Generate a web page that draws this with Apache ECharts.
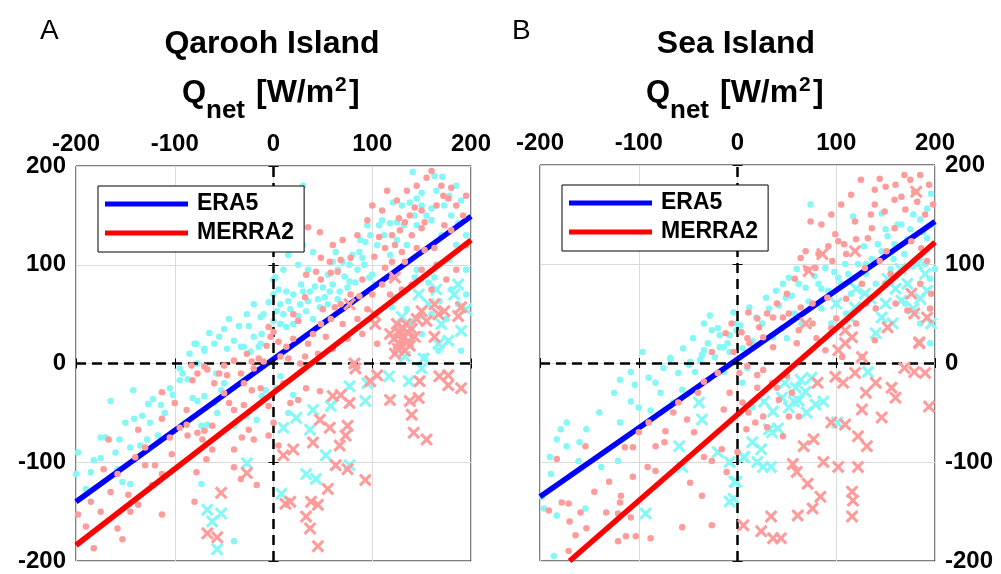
<!DOCTYPE html>
<html>
<head>
<meta charset="utf-8">
<title>Qnet scatter</title>
<script src="https://cdn.jsdelivr.net/npm/echarts@6/dist/echarts.min.js"></script>
<style>
  html, body { margin: 0; padding: 0; background: #ffffff; }
  #chart { width: 1001px; height: 574px; }
</style>
</head>
<body>
<div id="chart"></div>
<script>
// ---- text and axis settings ----
const panelTitles = ['Qarooh Island', 'Sea Island'];
const panelLetters = ['A', 'B'];
const seriesNames = ['ERA5', 'MERRA2'];
const axisMin = -200;
const axisMax = 200;
const axisStep = 100;
const zeroRef = 0;

// ---- Panel A: Qarooh Island  [x, y] pairs in W/m2 ----
const qaEraDots = [
  [-165,-38],[-142,-27],[-102,-32],[-127,-41],[-122,-36],[-114,-42],[-141,-56],[-133,-53],
  [-170,-75],[-156,-77],[-145,-85],[-135,-83],[-128,-77],[-117,-73],[-198,-90],[-182,-98],
  [-175,-96],[-158,-107],[-153,-120],[-145,-122],[-190,-127],[-95,-17],[-92,-10],[-87,-16],
  [-78,0],[-80,20],[-70,15],[-58,-10],[-47,15],[-30,17],[-13,20],[-82,-35],[-77,-38],[-70,-33],
  [-60,-40],[-53,-27],[-50,-20],[-73,-63],[-67,-62],[-57,-50],[-40,-63],[-27,-53],[-17,-57],
  [-12,-33],[-8,-27],[-73,-122],[-40,-180],
  [0,85],[0,70],[-5,62],[-27,50],[-13,47],[-35,38],[-25,38],[-65,31],[-55,27],[-20,27],[-12,30],
  [-78,20],[-70,13],[-40,23],[-33,17],[-77,0],[-23,12],[-15,17],
  [141,194],[163,190],[171,189],[150,173],[145,167],[138,163],[130,160],[121,163],[160,157],
  [173,160],[187,142],[143,150],[145,140],[125,143],[118,142],[107,140],[110,145],[98,130],
  [93,123],[87,113],[90,107],[100,90],[97,87],[103,80],[83,82],[77,83],[75,77],[67,73],[60,80],
  [57,73],[52,67],[50,77],[42,78],[37,73],[30,73],[28,80],[20,70],[13,73],[15,63],[27,60],
  [33,53],[35,63],[47,57],[7,60],[3,53],[0,43],[7,40],[13,37],[20,40],[30,180],[40,113],
  [60,103],[70,103],[77,100],[63,113],[2,87],[30,120],[163,87],[157,82],[143,87],[123,67],
  [120,57],[147,47],[168,63],[187,60],[138,23],[167,13],[153,7],[190,13],[185,120],[178,105],
  [195,95],[7,-13],[20,-32],[15,-50],[3,-25],
  [55,90],[65,95],[72,88],[85,95],[92,100],[80,110],[88,125],[95,140],[105,120],[112,130],
  [118,110],[125,125],[132,140],[135,120],[150,160],[155,150],[165,175],[178,170],[185,180],
  [190,165],[160,145],[170,130],[180,150],[195,130],[10,50],[17,55],[25,48],[40,45],[45,65],
  [55,60],[65,65],[70,55],[5,75],[10,95],[25,100],[35,95],[15,110],[-10,50],[-20,60],[-45,45],
  [-50,35],[-60,20],[-85,10],[-95,-5],[-105,-25],[-110,-50],[-125,-60],[-150,-60],[-160,-90],
  [-185,-110],[-200,-112],[-175,-75],[135,55],[150,30],[175,45],[160,50],[145,95],[180,75],[195,70]
];
const qaMerraDots = [
  [-113,-29],[-137,-67],[-113,-56],[-103,-92],[-167,-77],[-172,-107],[-158,-112],[-147,-133],
  [-130,-103],[-120,-103],[-113,-112],[-123,-123],[-137,-143],[-113,-153],[-145,-150],
  [-175,-150],[-198,-153],[-158,-167],[-153,-178],[-182,-187],[-88,-62],[-87,-73],[-77,-70],
  [-70,-68],[-62,-63],[-72,-77],[-62,-87],[-40,-87],[-32,-75],[-20,-77],[-25,-67],[-40,-105],
  [-33,-117],[-17,-123],[-80,-140],[-78,-110],[-68,-97],[-88,-47],[-82,-17],[-77,-10],
  [-47,-12],[-45,-40],[-40,-47],[-30,-42],[-22,-27],[-13,-25],[-5,-43],[-5,-73],[-83,-2],
  [-67,-6],[-55,-10],[-33,-10],
  [-5,37],[-3,27],[0,32],[-7,18],[-27,10],[-40,3],[-22,2],[-10,2],[-70,-3],[-50,-2],
  [170,180],[172,170],[177,167],[150,155],[153,143],[143,158],[138,150],[133,143],[127,147],
  [128,135],[150,137],[140,130],[145,117],[153,115],[163,117],[173,140],[180,135],[120,130],
  [123,120],[113,117],[107,128],[102,108],[120,103],[133,103],[130,113],[113,97],[120,87],
  [78,107],[68,105],[57,103],[48,107],[47,133],[35,138],[65,93],[58,92],[48,85],[43,93],
  [33,90],[78,70],[87,68],[68,60],[62,57],[50,55],[32,67],[20,50],[25,43],[48,40],[58,45],
  [5,22],[13,17],[32,7],[27,0],[7,7],[53,27],[155,188],[180,178],[192,150],
  [47,-28],[17,-40],[25,-37],[33,-25],[5,-83],[0,-60],[10,-20],
  [60,120],[70,125],[85,130],[95,145],[110,155],[100,160],[115,175],[125,165],[135,175],
  [145,180],[160,195],[165,160],[185,160],[195,170],[90,85],[100,70],[110,80],[118,70],
  [130,75],[140,80],[95,55],[85,45],[70,40],[40,30],[35,20],[20,25],[15,5],[45,10],[60,15],
  [75,25],[90,30],[105,20],[-15,5],[-20,-5],[-30,-20],[-50,-30],[-60,-20],[-100,-40],
  [-95,-65],[-105,-75],[-130,-85],[-140,-95],[-165,-130],[-185,-140],[-190,-165],[150,95],
  [165,100],[185,95],[175,85],[160,75],[195,120]
];
const qaEraX = [
  [-27,-101],[-67,-148],[-53,-152],[-57,-188],[-62,-160],
  [187,80],[183,70],[147,70],[157,60],[137,40],[130,47],[170,40],[177,23],[190,33],[127,13],
  [133,7],[165,75],[195,55],
  [117,-13],[137,-18],[150,-5],[152,5],[167,20],[95,-20],[77,-23],[93,-38],[58,-43],[40,-47],
  [23,-55],[10,-65],[37,-67],[53,-93],[77,-103],[33,-112],[43,-117],[8,-132]
];
const qaMerraX = [
  [-27,-111],[-53,-131],[-67,-172],[-57,-176],
  [127,33],[132,27],[135,32],[127,20],[133,13],[123,10],[143,27],[130,24],[138,18],[190,57],
  [187,48],[163,60],[167,50],[155,43],[173,53],[103,40],[123,87],[77,60],[102,50],[163,27],
  [150,53],[82,0],[125,40],[128,30],[131,36],[136,22],[126,15],[140,35],[129,18],[134,40],
  [122,25],[145,45],[118,30],
  [83,-5],[98,-18],[105,-12],[118,-37],[138,-38],[147,-35],[140,-52],[142,-70],[155,-77],
  [148,-18],[168,-13],[177,-12],[177,-22],[190,-25],[60,-33],[77,-40],[68,-32],[47,-57],
  [57,-65],[75,-63],[73,-73],[67,-83],[40,-80],[20,-87],[10,-93],[63,-103],[75,-107],
  [93,-118],[55,-127],[38,-140],[45,-143],[33,-155],[37,-167],[45,-185],[12,-142],[17,-140]
];
const qaEraFit = [[-200,-140],[200,149]];
const qaMerraFit = [[-200,-184],[200,125]];

// ---- Panel B: Sea Island  [x, y] pairs in W/m2 ----
const sbEraDots = [
  [-4,51],[-34,40],[-26,33],[-18,28],[-8,28],[-1,40],[3,38],[-14,16],[-8,11],[-36,8],[-96,11],
  [-68,5],[-48,1],[-23,6],[-30,20],
  [74,160],[117,148],[146,151],[192,156],[196,171],[166,140],[52,86],[46,80],[39,73],[49,66],
  [29,66],[12,56],[19,46],[69,76],[82,80],[92,73],[102,86],[89,96],[109,100],[119,86],
  [146,113],[159,120],[169,110],[192,126],[36,26],[-1,33],[60,95],[130,100],[175,135],
  [185,145],[150,135],[130,90],[140,80],[155,95],[180,100],[195,85],[170,60],[185,40],
  [195,20],[110,50],[95,40],
  [-108,-9],[-119,-17],[-104,-22],[-108,-39],[-83,-20],[-78,-30],[-68,4],[-56,-27],[-49,-2],
  [-43,-9],[-38,3],[-34,13],[-18,16],[-14,-9],[-119,-60],[-153,-67],[-173,-60],[-179,-67],
  [-183,-77],[-173,-84],[-161,-99],[-138,-105],[-121,-99],[-189,-112],[-196,-147],[-183,-154],
  [-154,-147],[-186,-195],[-90,-15],[-100,-45],[5,-20],[15,-45],[10,-5],
  [5,15],[15,22],[25,40],[32,55],[42,58],[55,68],[62,80],[58,50],[72,62],[78,88],[85,75],
  [98,92],[105,80],[112,90],[122,100],[128,118],[136,105],[142,120],[152,128],[158,105],
  [162,140],[172,125],[178,150],[188,132],[198,140],[190,100],[200,95],[45,35],[50,25],
  [65,40],[85,55],[115,70],[-10,20],[-20,35],[-28,48],[-45,25],[-55,15],[-60,-10],[-75,-5],
  [-65,-40],[-88,-48],[-125,-30],[-140,-50],[-160,-80],[-190,-95],[-198,-135]
];
const sbMerraDots = [
  [11,51],[-6,40],[4,31],[-26,11],[-4,11],[-12,30],
  [144,186],[169,190],[194,180],[139,175],[179,173],[182,163],[166,168],[159,165],[149,153],
  [139,160],[136,136],[159,136],[151,113],[144,103],[176,123],[186,116],[192,103],[119,143],
  [132,126],[129,96],[126,80],[102,123],[99,130],[96,103],[74,143],[69,113],[64,106],[79,96],
  [91,66],[76,60],[64,56],[52,50],[46,46],[36,46],[22,36],[26,26],[36,16],[12,20],[62,33],
  [76,40],[106,6],[89,13],[126,6],[139,23],[172,53],[196,70],[155,90],[110,110],
  [-34,-19],[-8,-30],[-14,-47],[-51,-57],[-44,-70],[-16,-87],[-34,-95],[-26,-99],[-11,-110],
  [-73,-69],[-74,-80],[-83,-84],[-106,-85],[-114,-85],[-154,-84],[-183,-97],[-91,-105],
  [-106,-115],[-83,-109],[-48,-121],[-36,-134],[-56,-166],[-26,-164],[-118,-134],[-119,-141],
  [-108,-156],[-121,-152],[-133,-151],[-159,-151],[-178,-141],[-171,-142],[-191,-149],
  [-153,-167],[-164,-174],[-171,-190],[-121,-180],[-113,-175],[-103,-175],[-88,-177],
  [-60,-40],[-90,-60],
  [2,-10],[26,-7],[42,-37],[26,-54],[52,-54],[62,-54],[46,-74],[9,-67],[11,-50],[20,-25],[35,-20],
  [85,140],[95,150],[105,160],[115,170],[125,185],[150,178],[160,180],[175,185],[185,190],
  [198,160],[190,150],[170,155],[135,150],[120,125],[108,120],[92,118],[82,110],[70,95],
  [58,85],[50,70],[40,60],[30,50],[20,45],[10,25],[60,20],[80,25],[95,35],[120,40],[140,55],
  [160,60],[185,80],[130,60],[110,65],[100,45],[150,80],[195,55],[10,-3],[20,-12],[50,-13],
  [55,-30],[40,-25],[18,-60],[30,-65],[0,-90],[5,-40],[-20,-10],[-40,-30],[-65,-50],
  [-100,-70],[-130,-120],[-145,-130],[-170,-160]
];
const sbEraX = [
  [172,80],[192,73],[166,63],[146,46],[129,70],[119,56],[140,30],[100,60],
  [64,-17],[59,-25],[69,-29],[79,-42],[87,-39],[57,-39],[36,-49],[27,-39],[41,-66],[32,-67],
  [24,-87],[7,-95],[26,-105],[34,-105],[-3,-120],[-4,-137],[101,-60],[132,-9],[75,-15],
  [-39,-40],[-36,-57],[-59,-84],[-56,-105],[-93,-152],[-8,-100],[6,-95],[-1,-120],[-8,-140],
  [45,-35],[52,-45],[62,-38],[70,-50],[48,-20],[35,-70],[15,-80],[20,-100],[150,60],[185,65],
  [160,75],[-20,-90],
  [120,75],[135,65],[152,85],[165,95],[178,55],[190,90],[196,40],[157,40],[115,45],[182,100]
];
const sbMerraX = [
  [181,173],[86,110],[72,93],[119,113],[69,40],[109,33],[116,26],[102,13],[176,70],[179,50],
  [192,46],[184,21],[152,36],
  [109,20],[126,6],[119,-10],[107,-20],[81,-20],[99,-14],[156,-25],[169,-5],[179,-9],[184,20],
  [194,-44],[146,-55],[126,-47],[122,-74],[131,-84],[109,-62],[77,-77],[67,-84],[56,-102],
  [71,-122],[84,-135],[76,-147],[61,-154],[87,-100],[102,-105],[122,-105],[116,-130],
  [117,-139],[116,-155],[34,-155],[6,-164],[24,-170],[44,-177],[36,-177],
  [130,-30],[140,-20],[160,-35],[190,-10],[95,-60],[60,-110]
];
const sbEraFit = [[-200,-135],[200,143]];
const sbMerraFit = [[-170,-200],[200,122]];

// ---- styling ----
const FONT = '"Liberation Sans", Arial, Helvetica, sans-serif';
const CYAN = '#84f7f7';
const PINK = '#fe9b9b';
const BLUE = '#0000ff';
const RED = '#ff0000';
const CROSS = 'path://M0,2L2,0L6,4L10,0L12,2L8,6L12,10L10,12L6,8L2,12L0,10L4,6Z';

const grids = [
  { left: 76, top: 166, width: 395, height: 395 },
  { left: 540, top: 165, width: 395, height: 396 }
];

function valueAxis(gridIndex, position, showLabels, showSplit) {
  return {
    type: 'value', gridIndex, position,
    min: axisMin, max: axisMax, interval: axisStep,
    axisLine: { show: false },
    axisTick: { show: true, inside: true, length: 5, lineStyle: { color: '#000', width: 1 } },
    axisLabel: {
      show: showLabels, margin: 10,
      color: '#000', fontFamily: FONT, fontWeight: 'bold', fontSize: 24
    },
    splitLine: { show: showSplit, lineStyle: { color: '#dadada', width: 1 } }
  };
}

const xAxes = [
  valueAxis(0, 'top', true, true), valueAxis(0, 'bottom', false, false),
  valueAxis(1, 'top', true, true), valueAxis(1, 'bottom', false, false)
];
const yAxes = [
  valueAxis(0, 'left', true, true), valueAxis(0, 'right', false, false),
  valueAxis(1, 'right', true, true), valueAxis(1, 'left', false, false)
];

function dots(name, data, ax, ay, color, z) {
  return {
    type: 'scatter', name, data, xAxisIndex: ax, yAxisIndex: ay, z,
    symbol: 'circle', symbolSize: 6.5, silent: true,
    itemStyle: { color, opacity: 1 }
  };
}
function crosses(name, data, ax, ay, color, z) {
  return {
    type: 'scatter', name, data, xAxisIndex: ax, yAxisIndex: ay, z,
    symbol: CROSS, symbolSize: 13, silent: true,
    itemStyle: { color, opacity: 1 }
  };
}
function fit(name, data, ax, ay, color, z) {
  return {
    type: 'line', name, data, xAxisIndex: ax, yAxisIndex: ay, z,
    showSymbol: false, symbol: 'none', silent: true,
    itemStyle: { color },
    lineStyle: { color, width: 5.5 }
  };
}
function zeroLines(ax, ay) {
  return {
    type: 'line', name: 'zero', data: [], xAxisIndex: ax, yAxisIndex: ay, z: 8, silent: true,
    markLine: {
      silent: true, symbol: 'none', animation: false,
      label: { show: false },
      lineStyle: { color: '#000', width: 2.5, type: [10, 6] },
      data: [{ xAxis: zeroRef }, { yAxis: zeroRef }]
    }
  };
}

const panels = [
  { ax: 0, ay: 0, eraDots: qaEraDots, merraDots: qaMerraDots, eraX: qaEraX, merraX: qaMerraX, eraFit: qaEraFit, merraFit: qaMerraFit },
  { ax: 2, ay: 2, eraDots: sbEraDots, merraDots: sbMerraDots, eraX: sbEraX, merraX: sbMerraX, eraFit: sbEraFit, merraFit: sbMerraFit }
];

const series = [];
panels.forEach(p => {
  series.push(dots('ERA5 daily', p.eraDots, p.ax, p.ay, CYAN, 2));
  series.push(crosses('ERA5 events', p.eraX, p.ax, p.ay, CYAN, 3));
  series.push(fit(seriesNames[0], p.eraFit, p.ax, p.ay, BLUE, 4));
  series.push(dots('MERRA2 daily', p.merraDots, p.ax, p.ay, PINK, 5));
  series.push(crosses('MERRA2 events', p.merraX, p.ax, p.ay, PINK, 6));
  series.push(fit(seriesNames[1], p.merraFit, p.ax, p.ay, RED, 7));
  series.push(zeroLines(p.ax, p.ay));
});

function legendAt(left, top) {
  return {
    show: true, orient: 'vertical', left, top, z: 10,
    data: seriesNames.map(n => ({ name: n, icon: 'rect' })),
    itemWidth: 83, itemHeight: 5, itemGap: 5,
    padding: [6, 10, 7, 7],
    backgroundColor: '#ffffff', borderColor: '#000', borderWidth: 1, borderRadius: 0,
    selectedMode: false,
    textStyle: {
      color: '#000', fontFamily: FONT, fontWeight: 'bold', fontSize: 23,
      lineHeight: 24, padding: [0, 0, 0, 4]
    }
  };
}

// Titles and the Q_net axis caption for each panel
function panelText(dx, i) {
  const bold = (text, x, y, size, align) => ({
    type: 'text', x, y, silent: true,
    style: { text, fill: '#000', font: 'bold ' + size + 'px ' + FONT, textAlign: align || 'left', textVerticalAlign: 'middle' }
  });
  return [
    { type: 'text', x: (i === 0 ? 40 : 512), y: 31, silent: true,
      style: { text: panelLetters[i], fill: '#000', font: '28px ' + FONT, textAlign: 'left', textVerticalAlign: 'middle' } },
    bold(panelTitles[i], 272 + dx, 44, 32, 'center'),
    bold('Q', 182 + dx, 93, 31),
    bold('net', 206 + dx, 111, 26),
    bold('[W/m', 256 + dx, 93, 32),
    bold('2', 335 + dx, 85, 21),
    bold(']', 349 + dx, 93, 32)
  ];
}

const chart = echarts.init(document.getElementById('chart'), null, { renderer: 'canvas' });
chart.setOption({
  animation: false,
  backgroundColor: '#ffffff',
  grid: grids.map(g => Object.assign({ show: true, borderColor: '#000', borderWidth: 1, backgroundColor: '#fff', containLabel: false }, g)),
  xAxis: xAxes,
  yAxis: yAxes,
  legend: [legendAt(98, 186), legendAt(562, 185)],
  series,
  graphic: panelText(0, 0).concat(panelText(464, 1))
});
</script>
</body>
</html>
